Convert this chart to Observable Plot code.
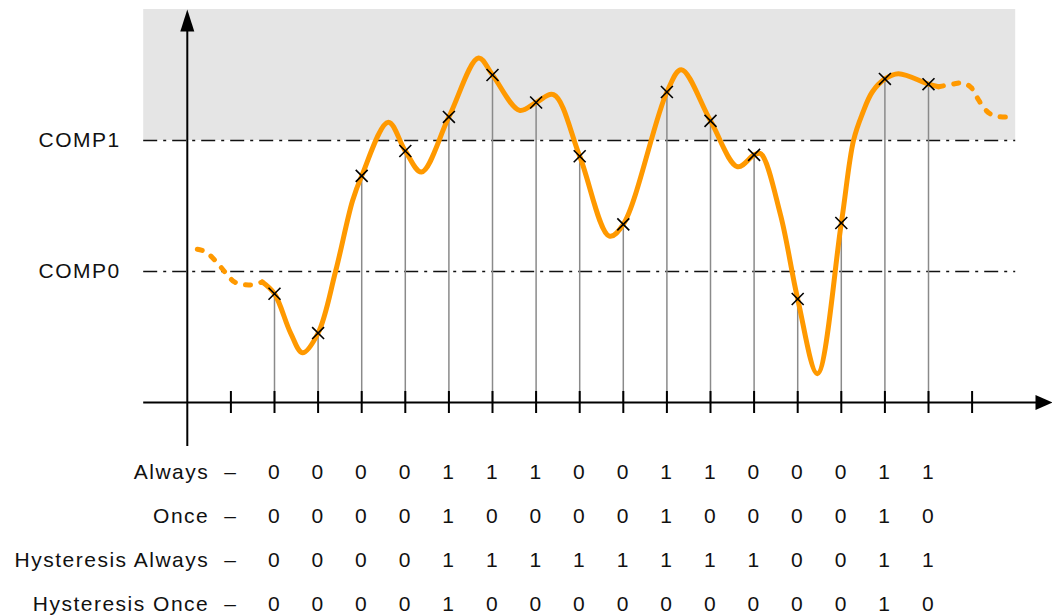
<!DOCTYPE html>
<html>
<head>
<meta charset="utf-8">
<script src="https://cdn.jsdelivr.net/npm/d3@7"></script>
<script src="https://cdn.jsdelivr.net/npm/@observablehq/plot@0.6"></script>
<style>
  html, body { margin: 0; padding: 0; background: #ffffff; }
  #chart svg { display: block; }
</style>
</head>
<body>
<div id="chart"></div>
<script>
// ---- Data (x in tick units, y in threshold units: COMP0 = 1, COMP1 = 2) ----
const tickPositions = [1, 2, 3, 4, 5, 6, 7, 8, 9, 10, 11, 12, 13, 14, 15, 16, 17, 18];
const sampleX = [2, 3, 4, 5, 6, 7, 8, 9, 10, 11, 12, 13, 14, 15, 16, 17];
const sampleY = [0.83, 0.53, 1.73, 1.92, 2.18, 2.50, 2.29, 1.88, 1.36, 2.37, 2.15, 1.89, 0.79, 1.37, 2.47, 2.43];

const compLabels = ["COMP0", "COMP1"];
const compLevels = [1, 2];

// signal curve
const leftDashX = [0.23, 0.42, 0.65, 0.88, 1.08, 1.29, 1.52, 1.72];
const leftDashY = [1.17, 1.15, 1.08, 0.99, 0.92, 0.90, 0.90, 0.92];
const mainX = [1.72, 2, 2.37, 2.64, 3, 3.40, 3.79, 4, 4.61, 5, 5.37, 6, 6.68, 7, 7.62, 8, 8.40, 9, 9.68, 10, 11, 11.33, 12, 12.62, 13, 13.15, 13.60, 14, 14.45, 15, 15.28, 15.49, 15.71, 16, 16.31, 17, 17.23];
const mainY = [0.92, 0.83, 0.53, 0.38, 0.53, 1.00, 1.54, 1.73, 2.14, 1.92, 1.76, 2.18, 2.63, 2.50, 2.23, 2.29, 2.35, 1.88, 1.27, 1.36, 2.37, 2.54, 2.15, 1.80, 1.89, 1.90, 1.44, 0.79, 0.22, 1.37, 2.00, 2.21, 2.37, 2.47, 2.51, 2.43, 2.41];
const rightDashX = [17.23, 17.55, 17.80, 17.99, 18.13, 18.29, 18.49, 18.77];
const rightDashY = [2.41, 2.43, 2.44, 2.40, 2.32, 2.24, 2.19, 2.18];

const rowLabels = ["Always", "Once", "Hysteresis Always", "Hysteresis Once"];
const rowAlways = [0, 0, 0, 0, 1, 1, 1, 0, 0, 1, 1, 0, 0, 0, 1, 1];
const rowOnce = [0, 0, 0, 0, 1, 0, 0, 0, 0, 1, 0, 0, 0, 0, 1, 0];
const rowHystAlways = [0, 0, 0, 0, 1, 1, 1, 1, 1, 1, 1, 1, 0, 0, 1, 1];
const rowHystOnce = [0, 0, 0, 0, 1, 0, 0, 0, 0, 0, 0, 0, 0, 0, 1, 0];

// ---- Layout ----
const W = 1052, H = 616;
const x0px = 186.8, xStep = 43.6;   // pixel of x=0 and pixels per tick
const y0px = 402, yStep = 131;      // pixel of y=0 and pixels per threshold unit
const xDomain = [-x0px / xStep, (W - x0px) / xStep];
const yDomain = [-(H - y0px) / yStep, y0px / yStep];
const px = v => v / yStep;          // pixel length -> y units
const rowY = k => -(69.5 + 44 * k) / yStep;

const pts = (xs, ys) => xs.map((x, i) => ({x, y: ys[i]}));
const samples = pts(sampleX, sampleY);
const rows = [rowAlways, rowOnce, rowHystAlways, rowHystOnce];
const cells = rows.flatMap((r, k) => r.map((v, i) => ({x: sampleX[i], k, v: String(v)})));
const dashes = rowLabels.map((_, k) => ({x: 1, k}));

const arrowUp = {draw(ctx) { ctx.moveTo(0, 0); ctx.lineTo(-7, 22); ctx.lineTo(7, 22); ctx.closePath(); }};
const arrowRight = {draw(ctx) { ctx.moveTo(0, 0); ctx.lineTo(-17, -7.5); ctx.lineTo(-17, 7.5); ctx.closePath(); }};

const orange = "#FF9900";

const chart = Plot.plot({
  width: W, height: H,
  marginTop: 0, marginRight: 0, marginBottom: 0, marginLeft: 0,
  x: {domain: xDomain, axis: null},
  y: {domain: yDomain, axis: null},
  style: {fontFamily: "'Liberation Sans', Arial, sans-serif", fontSize: "21px", letterSpacing: "1.5px", background: "#ffffff", overflow: "visible"},
  marks: [
    // shaded region above COMP1
    Plot.rect([0], {x1: -1, x2: 19, y1: compLevels[1], y2: 3, fill: "#E5E5E5"}),
    // threshold lines
    Plot.ruleY(compLevels, {x1: -1, x2: 19, stroke: "#111", strokeWidth: 1.6, strokeDasharray: "14,6,3,6"}),
    Plot.text(compLabels, {x: -1, y: (d, i) => compLevels[i], text: d => d, textAnchor: "end", dx: -23, fill: "#111"}),
    // stems
    Plot.ruleX(samples, {x: "x", y1: 0, y2: "y", stroke: "#8a8a8a", strokeWidth: 1.5}),
    // axes
    Plot.ruleY([0], {x1: -1, x2: 19.5, stroke: "#000", strokeWidth: 2}),
    Plot.ruleX([0], {y1: -0.336, y2: 2.85, stroke: "#000", strokeWidth: 2}),
    Plot.ruleX(tickPositions, {y1: -px(11), y2: px(11), stroke: "#000", strokeWidth: 2}),
    Plot.dot([0], {x: 0, y: 3, symbol: arrowUp, fill: "#000", stroke: "none"}),
    Plot.dot([0], {x: xDomain[1], y: 0, symbol: arrowRight, fill: "#000", stroke: "none"}),
    // signal
    Plot.line(pts(leftDashX, leftDashY), {x: "x", y: "y", curve: "catmull-rom", stroke: orange, strokeWidth: 5, strokeLinecap: "round", strokeDasharray: "5,10.5"}),
    Plot.line(pts(rightDashX, rightDashY), {x: "x", y: "y", curve: "catmull-rom", stroke: orange, strokeWidth: 5, strokeLinecap: "round", strokeDasharray: "5,10.5"}),
    Plot.line(pts(mainX, mainY), {x: "x", y: "y", curve: "catmull-rom", stroke: orange, strokeWidth: 5, strokeLinecap: "round", strokeLinejoin: "round"}),
    // sample markers
    Plot.dot(samples, {x: "x", y: "y", symbol: "times", r: 5.5, stroke: "#000", strokeWidth: 1.6}),
    // table
    Plot.text(rowLabels, {x: 0, y: (d, i) => rowY(i), text: d => d, textAnchor: "end", dx: 22, fill: "#111"}),
    Plot.text(dashes, {x: "x", y: d => rowY(d.k), text: () => "–", fill: "#111"}),
    Plot.text(cells, {x: "x", y: d => rowY(d.k), text: "v", fill: "#111"})
  ]
});
document.getElementById("chart").append(chart);
</script>
</body>
</html>
